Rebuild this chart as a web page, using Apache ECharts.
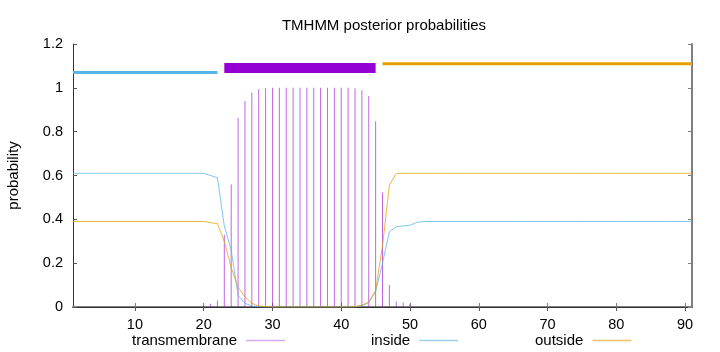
<!DOCTYPE html>
<html lang="en">
  <head>
    <meta charset="UTF-8">
    <title>TMHMM posterior probabilities</title>
    <style>
      html, body { margin: 0; padding: 0; background: #fff; }
      #main { width: 720px; height: 352px; }
    </style>
  </head>
  <body>
    <div id="main"></div>
    <script src="https://cdn.jsdelivr.net/npm/echarts@6/dist/echarts.min.js"></script>
    <script type="text/javascript">
      // residue positions 1..91
      var positions = [];
      for (var i = 1; i <= 91; i++) positions.push(i);

      // posterior probabilities, one value per residue
      var transmembrane = [
        0, 0, 0, 0, 0, 0, 0, 0, 0, 0,
        0, 0, 0, 0, 0, 0, 0, 0, 0, 0.005,
        0.015, 0.03, 0.33, 0.56, 0.862, 0.94, 0.979, 0.993, 0.998, 1,
        1, 1, 1, 1, 1, 1, 1, 1, 1, 1,
        1, 0.998, 0.989, 0.963, 0.847, 0.523, 0.1, 0.025, 0.02, 0.015,
        0, 0, 0, 0, 0, 0, 0, 0, 0, 0,
        0, 0, 0, 0, 0, 0, 0, 0, 0, 0,
        0, 0, 0, 0, 0, 0, 0, 0, 0, 0,
        0, 0, 0, 0, 0, 0, 0, 0, 0, 0,
        0
      ];
      var inside = [
        0.61, 0.61, 0.61, 0.61, 0.61, 0.61, 0.61, 0.61, 0.61, 0.61,
        0.61, 0.61, 0.61, 0.61, 0.61, 0.61, 0.61, 0.61, 0.61, 0.61,
        0.60, 0.59, 0.37, 0.26, 0.053, 0.017, 0.005, 0.002, 0, 0,
        0, 0, 0, 0, 0, 0, 0, 0, 0, 0,
        0, 0, 0.005, 0.02, 0.07, 0.2, 0.343, 0.366, 0.37, 0.373,
        0.386, 0.39, 0.39, 0.39, 0.39, 0.39, 0.39, 0.39, 0.39, 0.39,
        0.39, 0.39, 0.39, 0.39, 0.39, 0.39, 0.39, 0.39, 0.39, 0.39,
        0.39, 0.39, 0.39, 0.39, 0.39, 0.39, 0.39, 0.39, 0.39, 0.39,
        0.39, 0.39, 0.39, 0.39, 0.39, 0.39, 0.39, 0.39, 0.39, 0.39,
        0.39
      ];
      var outside = [
        0.39, 0.39, 0.39, 0.39, 0.39, 0.39, 0.39, 0.39, 0.39, 0.39,
        0.39, 0.39, 0.39, 0.39, 0.39, 0.39, 0.39, 0.39, 0.39, 0.39,
        0.385, 0.38, 0.30, 0.18, 0.09, 0.046, 0.017, 0.005, 0.002, 0,
        0, 0, 0, 0, 0, 0, 0, 0, 0, 0,
        0, 0.002, 0.008, 0.023, 0.076, 0.28, 0.556, 0.609, 0.61, 0.61,
        0.61, 0.61, 0.61, 0.61, 0.61, 0.61, 0.61, 0.61, 0.61, 0.61,
        0.61, 0.61, 0.61, 0.61, 0.61, 0.61, 0.61, 0.61, 0.61, 0.61,
        0.61, 0.61, 0.61, 0.61, 0.61, 0.61, 0.61, 0.61, 0.61, 0.61,
        0.61, 0.61, 0.61, 0.61, 0.61, 0.61, 0.61, 0.61, 0.61, 0.61,
        0.61
      ];

      // predicted topology: [start, end] of each segment and its level
      var segInside = [1, 22];
      var segTM = [23, 45];
      var segOutside = [46, 91];
      var segLevels = [1.07, 1.09, 1.11];

      var xTicks = [10, 20, 30, 40, 50, 60, 70, 80, 90];

      var FONT = "'Liberation Sans', Arial, sans-serif";
      var C_TM = '#9400D3', C_IN = '#56B4E9', C_OUT = '#E69F00';

      function pairs(xs, ys) {
        return xs.map(function (x, k) { return [x, ys[k]]; });
      }
      function seg(s, y) { return [[s[0], y], [s[1], y]]; }

      var myChart = echarts.init(document.getElementById('main'), null, { renderer: 'canvas' });

      var xBase = {
        type: 'value', min: 1, max: 91,
        splitLine: { show: false }
      };
      var yBase = {
        type: 'value', min: 0, max: 1.2, interval: 0.2,
        splitLine: { show: false }
      };

      function legendFor(name, color, left) {
        return {
          data: [{ name: name, icon: 'rect', itemStyle: { color: color } }],
          left: left, top: 333, padding: 0,
          align: 'right',
          itemWidth: 39, itemHeight: 1.5, itemGap: 0,
          selectedMode: false,
          textStyle: { fontFamily: FONT, fontSize: 15, color: '#000', padding: [0, 4, 0, 0] }
        };
      }

      var option = {
        backgroundColor: '#fff',
        animation: false,
        title: {
          text: 'TMHMM posterior probabilities',
          left: 379, top: 13, textAlign: 'center',
          textStyle: { fontFamily: FONT, fontSize: 15, fontWeight: 'normal', color: '#000' }
        },
        legend: [
          legendFor('transmembrane', '#b774e2', 132),
          legendFor('inside', '#9fd1ea', 371),
          legendFor('outside', '#f0c06a', 535)
        ],
        grid: { left: 73, right: 28, top: 44, bottom: 45, containLabel: false, outerBoundsMode: 'none' },
        xAxis: [
          Object.assign({}, xBase, {
            position: 'bottom',
            axisLine: { lineStyle: { color: '#808080', width: 2 } },
            axisTick: { inside: true, length: 4, customValues: xTicks, lineStyle: { color: '#808080' } },
            axisLabel: { customValues: xTicks, margin: 10, fontFamily: FONT, fontSize: 14.5, color: '#000' }
          }),
          Object.assign({}, xBase, {
            position: 'top',
            axisLine: { lineStyle: { color: '#333', width: 1 } },
            axisTick: { inside: true, length: 4, customValues: xTicks, lineStyle: { color: '#555' } },
            axisLabel: { show: false }
          })
        ],
        yAxis: [
          Object.assign({}, yBase, {
            position: 'left',
            name: 'probability', nameLocation: 'middle', nameRotate: 90, nameGap: 52,
            nameTextStyle: { fontFamily: FONT, fontSize: 15, color: '#000' },
            axisLine: { lineStyle: { color: '#333', width: 1 } },
            axisTick: { inside: true, length: 4, lineStyle: { color: '#555' } },
            axisLabel: { margin: 10, fontFamily: FONT, fontSize: 14.5, color: '#000' }
          }),
          Object.assign({}, yBase, {
            position: 'right',
            axisLine: { lineStyle: { color: '#808080', width: 2 } },
            axisTick: { inside: true, length: 4, lineStyle: { color: '#808080' } },
            axisLabel: { show: false }
          })
        ],
        series: [
          {
            name: 'transmembrane', type: 'bar',
            data: pairs(positions, transmembrane),
            barWidth: 1,
            itemStyle: { color: C_TM, opacity: 0.6 }
          },
          {
            name: 'inside', type: 'line',
            data: pairs(positions, inside),
            symbol: 'none',
            lineStyle: { color: C_IN, width: 1, opacity: 0.75 },
            itemStyle: { color: C_IN }
          },
          {
            name: 'outside', type: 'line',
            data: pairs(positions, outside),
            symbol: 'none',
            lineStyle: { color: C_OUT, width: 1, opacity: 0.75 },
            itemStyle: { color: C_OUT }
          },
          {
            name: 'seg-inside', type: 'line', data: seg(segInside, segLevels[0]),
            symbol: 'none', lineStyle: { color: C_IN, width: 3, cap: 'butt' }, z: 3
          },
          {
            name: 'seg-tm', type: 'line', data: seg(segTM, segLevels[1]),
            symbol: 'none', lineStyle: { color: C_TM, width: 10, cap: 'butt' }, z: 3
          },
          {
            name: 'seg-outside', type: 'line', data: seg(segOutside, segLevels[2]),
            symbol: 'none', lineStyle: { color: C_OUT, width: 3, cap: 'butt' }, z: 3
          }
        ]
      };

      myChart.setOption(option);
    </script>
  </body>
</html>
